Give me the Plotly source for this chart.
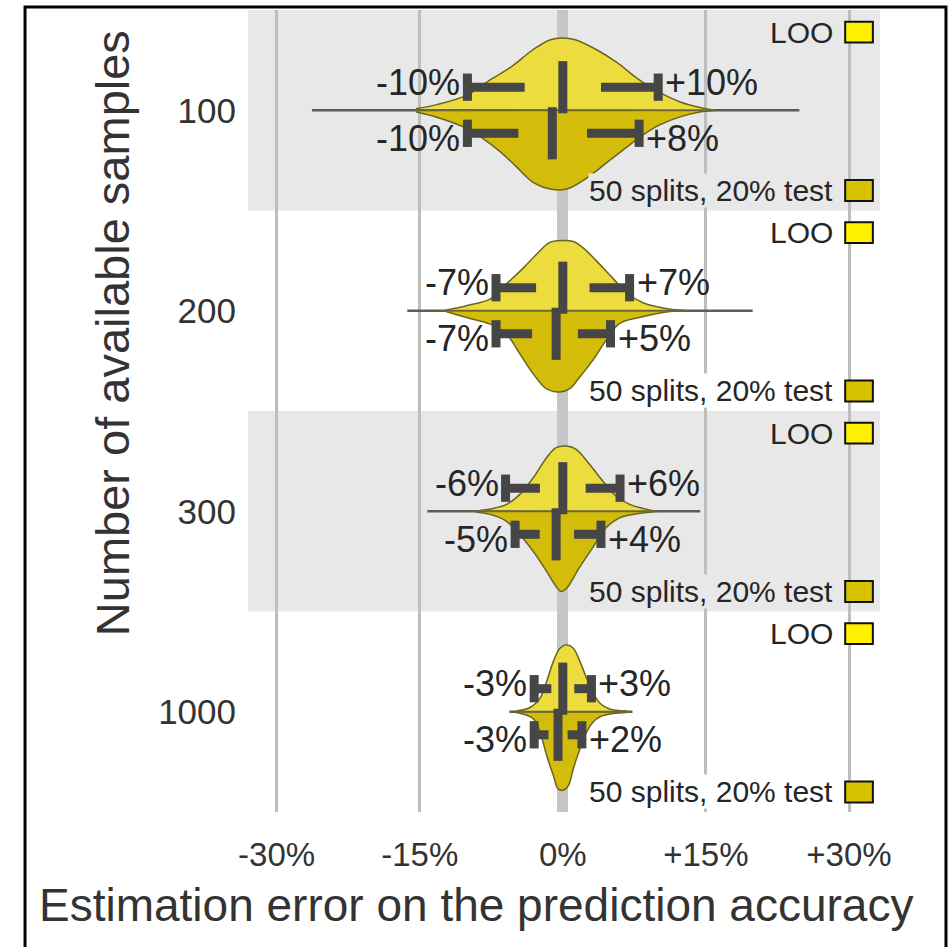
import plotly.graph_objects as go

# Sample-size groups (top to bottom)
groups = ["100", "200", "300", "1000"]

# Half-violin outlines: error (%) positions and half-heights (in row units)
loo_x_100 = [-15.4, -13.2, -10.1, -7.5, -5.3, -3.1, -1.3, 0.0, 1.3, 3.5, 5.7, 7.9, 10.1, 12.3, 14.5, 15.9]
loo_h_100 = [0.008, 0.028, 0.074, 0.155, 0.22, 0.303, 0.352, 0.36, 0.352, 0.303, 0.237, 0.155, 0.09, 0.041, 0.012, 0.0]
cv_x_100 = [-15.4, -12.8, -10.1, -8.4, -6.6, -4.8, -3.1, -1.3, 0.4, 2.6, 4.8, 6.6, 8.4, 10.1, 12.3, 14.5, 15.9]
cv_h_100 = [0.008, 0.041, 0.09, 0.14, 0.205, 0.285, 0.36, 0.393, 0.393, 0.335, 0.254, 0.188, 0.123, 0.074, 0.033, 0.008, 0.0]

loo_x_200 = [-12.2, -10.1, -7.6, -5.9, -4.1, -2.7, -1.4, -0.1, 1.1, 2.1, 3.5, 5.3, 6.7, 8.4, 10.5, 12.9]
loo_h_200 = [0.004, 0.025, 0.059, 0.134, 0.215, 0.284, 0.34, 0.35, 0.345, 0.315, 0.25, 0.159, 0.09, 0.04, 0.014, 0.0]
cv_x_200 = [-12.5, -10.1, -7.6, -5.9, -4.5, -3.1, -1.7, -0.3, 0.7, 1.7, 3.1, 4.5, 5.9, 8.0, 10.5, 12.2]
cv_h_200 = [0.0, 0.034, 0.067, 0.117, 0.215, 0.315, 0.39, 0.405, 0.39, 0.335, 0.25, 0.15, 0.065, 0.034, 0.009, 0.0]

loo_x_300 = [-8.7, -7.3, -5.9, -4.5, -3.1, -1.7, -0.7, 0.4, 1.4, 2.8, 4.2, 5.6, 7.0, 8.4, 9.8]
loo_h_300 = [0.004, 0.014, 0.034, 0.084, 0.167, 0.267, 0.317, 0.325, 0.309, 0.234, 0.15, 0.075, 0.034, 0.014, 0.0]
cv_x_300 = [-9.1, -7.3, -5.9, -4.5, -3.1, -1.7, -0.7, -0.2, 0.4, 1.7, 3.1, 4.5, 5.9, 7.6, 9.4]
cv_h_300 = [0.004, 0.02, 0.05, 0.117, 0.2, 0.3, 0.375, 0.4, 0.384, 0.284, 0.184, 0.084, 0.034, 0.014, 0.004]

loo_x_1000 = [-4.9, -3.5, -2.4, -1.7, -1.0, -0.3, 0.4, 1.1, 1.8, 2.5, 3.2, 3.9, 4.9, 6.7]
loo_h_1000 = [0.004, 0.02, 0.067, 0.15, 0.25, 0.317, 0.334, 0.317, 0.25, 0.167, 0.092, 0.042, 0.014, 0.004]
cv_x_1000 = [-4.9, -3.1, -2.4, -1.7, -1.0, -0.5, 0.0, 0.6, 1.1, 1.8, 2.5, 3.2, 3.9, 5.3, 6.7]
cv_h_1000 = [0.004, 0.034, 0.1, 0.217, 0.317, 0.384, 0.392, 0.367, 0.284, 0.184, 0.1, 0.05, 0.025, 0.009, 0.004]

# Full extent of the estimation errors (thin tails)
tail_min = [-26.3, -16.3, -14.2, -5.6]
tail_max = [24.8, 19.9, 14.4, 7.3]

# Percentile bounds and medians
loo_low = [-10, -7, -6, -3]
loo_high = [10, 7, 6, 3]
loo_med = [0.0, 0.0, 0.0, 0.0]
cv_low = [-10, -7, -5, -3]
cv_high = [8, 5, 4, 2]
cv_med = [-1.1, -0.7, -0.7, -0.5]

x_tickvals = [-30, -15, 0, 15, 30]
x_ticktext = ["-30%", "-15%", "0%", "+15%", "+30%"]

loo_outlines = [(loo_x_100, loo_h_100), (loo_x_200, loo_h_200), (loo_x_300, loo_h_300), (loo_x_1000, loo_h_1000)]
cv_outlines = [(cv_x_100, cv_h_100), (cv_x_200, cv_h_200), (cv_x_300, cv_h_300), (cv_x_1000, cv_h_1000)]

FONT = "Liberation Sans, Arial, sans-serif"
LOO_FILL = "#EDDC3E"
CV_FILL = "#D3BC0A"
LOO_SWATCH = "#FFF000"
CV_SWATCH = "#D9C300"
EDGE = "#6A6420"
MARK = "#464646"
BAND = "#E8E8E8"

fig = go.Figure()

for i in range(len(groups)):
    # thin tail line
    fig.add_trace(go.Scatter(x=[tail_min[i], tail_max[i]], y=[i, i], mode="lines",
                             line=dict(color="#5E5E50", width=2.5), hoverinfo="skip"))
    # upper half: LOO
    lx, lh = loo_outlines[i]
    fig.add_trace(go.Scatter(x=lx, y=[i - h for h in lh], mode="lines", fill="toself",
                             fillcolor=LOO_FILL, line=dict(color=EDGE, width=1.5, shape="spline"),
                             hoverinfo="skip"))
    # lower half: 50 splits, 20% test
    cx, ch = cv_outlines[i]
    fig.add_trace(go.Scatter(x=cx, y=[i + h for h in ch], mode="lines", fill="toself",
                             fillcolor=CV_FILL, line=dict(color=EDGE, width=1.5, shape="spline"),
                             hoverinfo="skip"))
    # centre divider
    fig.add_trace(go.Scatter(x=[min(lx[0], cx[0]), max(lx[-1], cx[-1])], y=[i, i], mode="lines",
                             line=dict(color="#6E6838", width=2), hoverinfo="skip"))

# percentile / median marks
BAR = 0.115
CAP = 0.068
for i in range(len(groups)):
    for sign, lo, hi, med in ((-1, loo_low[i], loo_high[i], loo_med[i]),
                              (1, cv_low[i], cv_high[i], cv_med[i])):
        yb = i + sign * BAR
        xs, ys = [], []
        # dashed horizontal bar between the bounds
        xs += [lo, lo + 0.6 * (med - lo), None, med + 0.4 * (hi - med), hi, None]
        ys += [yb, yb, None, yb, yb, None]
        # caps
        xs += [lo, lo, None, hi, hi, None]
        ys += [yb - CAP, yb + CAP, None, yb - CAP, yb + CAP, None]
        # median
        xs += [med, med]
        ys += [i - sign * 0.015, i + sign * 0.245]
        fig.add_trace(go.Scatter(x=xs, y=ys, mode="lines",
                                 line=dict(color=MARK, width=9), hoverinfo="skip"))

annotations = []
for i in range(len(groups)):
    for sign, lo, hi in ((-1, loo_low[i], loo_high[i]), (1, cv_low[i], cv_high[i])):
        yl = i + sign * 0.14
        annotations.append(dict(x=lo, y=yl, xref="x", yref="y", text=f"{lo:+d}%",
                                showarrow=False, xanchor="right", yanchor="middle", xshift=-5,
                                font=dict(family=FONT, size=36, color="#262626")))
        annotations.append(dict(x=hi, y=yl, xref="x", yref="y", text=f"{hi:+d}%",
                                showarrow=False, xanchor="left", yanchor="middle", xshift=5,
                                font=dict(family=FONT, size=36, color="#262626")))

shapes = []
# alternating row bands
for i in range(len(groups)):
    if i % 2 == 0:
        shapes.append(dict(type="rect", xref="paper", yref="y", x0=0, x1=1, y0=i - 0.5, y1=i + 0.5,
                           fillcolor=BAND, line=dict(width=0), layer="below"))

# per-row legend entries
for i in range(len(groups)):
    bg = BAND if i % 2 == 0 else "white"
    for text, dy, sw in (("LOO", -0.39, LOO_SWATCH), ("50 splits, 20% test", 0.40, CV_SWATCH)):
        annotations.append(dict(x=28.4, y=i + dy, xref="x", yref="y", text=text, showarrow=False,
                                xanchor="right", yanchor="middle", bgcolor=bg, borderpad=0,
                                font=dict(family=FONT, size=30, color="#262626")))
        shapes.append(dict(type="rect", xref="x", yref="y", x0=29.6, x1=32.5,
                           y0=i + dy - 0.052, y1=i + dy + 0.052, fillcolor=sw,
                           line=dict(color="#111111", width=2), layer="above"))

# axis titles
annotations.append(dict(x=0.3608, y=-0.116, xref="paper", yref="paper",
                        text="Estimation error on the prediction accuracy", showarrow=False,
                        xanchor="center", yanchor="middle",
                        font=dict(family=FONT, size=46, color="#333333")))
annotations.append(dict(x=-0.2152, y=0.597, xref="paper", yref="paper",
                        text="Number of available samples", showarrow=False, textangle=-90,
                        xanchor="center", yanchor="middle",
                        font=dict(family=FONT, size=47, color="#333333")))

# outer frame
shapes.append(dict(type="rect", xref="paper", yref="paper", x0=-0.3528, x1=1.1044, y0=-0.2, y1=1.0037,
                   line=dict(color="black", width=3), fillcolor="rgba(0,0,0,0)", layer="above"))

fig.update_layout(
    width=950, height=947,
    margin=dict(l=248, r=70, t=10, b=135),
    paper_bgcolor="white", plot_bgcolor="white",
    showlegend=False,
    shapes=shapes, annotations=annotations,
    xaxis=dict(range=[-33.0, 33.25], tickvals=x_tickvals, ticktext=x_ticktext,
               showgrid=True, gridcolor="#BEBEBE", gridwidth=3,
               zeroline=True, zerolinecolor="#C6C6C6", zerolinewidth=11,
               ticks="outside", ticklen=13, tickcolor="rgba(0,0,0,0)",
               tickfont=dict(family=FONT, size=33, color="#333333"), showline=False),
    yaxis=dict(range=[3.5, -0.5], tickvals=list(range(len(groups))), ticktext=groups,
               showgrid=False, zeroline=False, ticks="outside", ticklen=4,
               tickcolor="rgba(0,0,0,0)",
               tickfont=dict(family=FONT, size=35, color="#333333"), showline=False),
)

fig.write_html("out.html")
